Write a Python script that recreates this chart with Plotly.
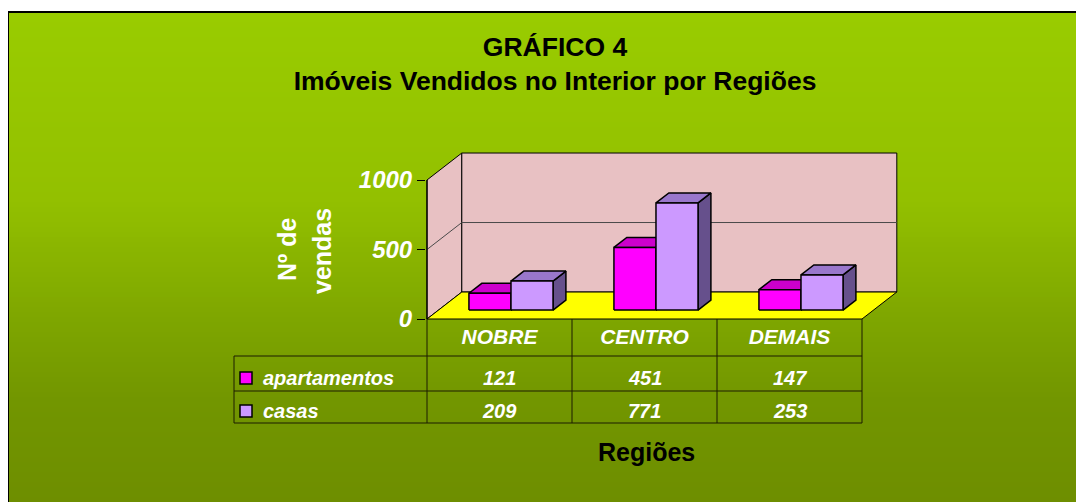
import plotly.graph_objects as go

# ---------------- data ----------------
categories = ["NOBRE", "CENTRO", "DEMAIS"]
apartamentos = [121, 451, 147]
casas = [209, 771, 253]
series_names = ["apartamentos", "casas"]
y_ticks = [0, 500, 1000]

# ---------------- styling / geometry ----------------
W, H = 1084, 502
OX, OY = 8, 8   # page body margin (figure is drawn offset by this much)
FONT = "Liberation Sans, Arial, sans-serif"
DX = 0.24      # depth in category units
DY = 194       # depth in value units
F1, F2 = 0.33, 0.70   # bar front / back depth fractions
BW = 0.29      # bar width (category units)
YMAX = 1000

# plot area in window pixels
L, R, T, B = 426, 900, 149, 321
XR = [-0.5 - 1 / 145, -0.5 + (R - 427) / 145]
YR = [-(B - 319) / 0.139, (319 - T) / 0.139]


def px_x(p):
    return (p - L) / (R - L)


def px_y(p):
    return (B - p) / (B - T)


COLORS = {
    "apartamentos": {"front": "#FF00FF", "top": "#CC00CC", "side": "#990099"},
    "casas": {"front": "#CC99FF", "top": "#9977CC", "side": "#66508C"},
}
WALL = "#E8C1C3"
FLOOR = "#FFFF00"
EDGE = "#000000"

fig = go.Figure()


def poly(xs, ys, fill, lw=1.0, lc=EDGE):
    fig.add_trace(go.Scatter(x=xs, y=ys, mode="lines", fill="toself",
                             fillcolor=fill, line=dict(color=lc, width=lw),
                             hoverinfo="skip", showlegend=False))


def line(xs, ys, lc="#333333", lw=1.0):
    fig.add_trace(go.Scatter(x=xs, y=ys, mode="lines",
                             line=dict(color=lc, width=lw),
                             hoverinfo="skip", showlegend=False))


xl, xr = -0.5, len(categories) - 0.5
# walls
poly([xl, xl, xl + DX, xl + DX, xl], [0, YMAX, YMAX + DY, DY, 0], WALL)
poly([xl + DX, xl + DX, xr + DX, xr + DX, xl + DX], [DY, YMAX + DY, YMAX + DY, DY, DY], WALL)
# gridlines
for t in y_ticks[1:-1]:
    line([xl, xl + DX, xr + DX], [t, t + DY, t + DY], lc="#4a4a4a", lw=1)
# floor
poly([xl, xr, xr + DX, xl + DX, xl], [0, 0, DY, DY, 0], FLOOR)

# bars
values = {"apartamentos": apartamentos, "casas": casas}
b1, b2 = F1 * DY, F2 * DY
ddx = (F2 - F1) * DX
for si, name in enumerate(series_names):
    vals = values[name]
    fx, fy, tx, ty, sx, sy = [], [], [], [], [], []
    for i, v in enumerate(vals):
        c = i + F1 * DX
        xa = c - BW if si == 0 else c
        xb = xa + BW
        sx += [xb, xb, xb + ddx, xb + ddx, xb, None]
        sy += [b1, b1 + v, b2 + v, b2, b1, None]
        tx += [xa, xb, xb + ddx, xa + ddx, xa, None]
        ty += [b1 + v, b1 + v, b2 + v, b2 + v, b1 + v, None]
        fx += [xa, xb, xb, xa, xa, None]
        fy += [b1, b1, b1 + v, b1 + v, b1, None]
    col = COLORS[name]
    poly(sx, sy, col["side"], lw=1.5)
    poly(tx, ty, col["top"], lw=1.5)
    poly(fx, fy, col["front"], lw=1.5)

# front edge of left wall (value axis line)
line([xl, xl], [0, YMAX], lc=EDGE, lw=1.2)

shapes = []
# background gradient
stops = [(12, (153, 204, 0)), (200, (147, 192, 0)), (320, (126, 166, 0)),
         (400, (114, 150, 0)), (502, (110, 142, 0))]


def grad(y):
    for (y0, c0), (y1, c1) in zip(stops[:-1], stops[1:]):
        if y0 <= y <= y1:
            f = (y - y0) / (y1 - y0)
            return "rgb(%d,%d,%d)" % tuple(round(a + (b - a) * f) for a, b in zip(c0, c1))
    return "rgb(%d,%d,%d)" % stops[-1][1]


step = 5
for y in range(12, 512, step):
    shapes.append(dict(type="rect", xref="paper", yref="paper", layer="below",
                       x0=px_x(8), x1=px_x(1100), y0=px_y(y), y1=px_y(y + step + 0.6),
                       fillcolor=grad(min(y + step / 2, 502)), line=dict(width=0)))
# chart frame
shapes.append(dict(type="rect", xref="paper", yref="paper", layer="below",
                   x0=px_x(8), x1=px_x(1110), y0=px_y(12), y1=px_y(525),
                   line=dict(color="#000000", width=2), fillcolor="rgba(0,0,0,0)"))

# data table
TL = "#1c1c00"
for yy in [356, 391, 423]:
    shapes.append(dict(type="line", xref="paper", yref="paper",
                       x0=px_x(234), x1=px_x(862), y0=px_y(yy), y1=px_y(yy),
                       line=dict(color=TL, width=1)))
shapes.append(dict(type="line", xref="paper", yref="paper",
                   x0=px_x(234), x1=px_x(234), y0=px_y(356), y1=px_y(423),
                   line=dict(color=TL, width=1)))
for k in range(len(categories) + 1):
    xv = -0.5 + k
    shapes.append(dict(type="line", xref="x", yref="paper",
                       x0=xv, x1=xv, y0=px_y(319), y1=px_y(423),
                       line=dict(color=TL, width=1)))

annotations = []
row_y = [378, 411]
cell_font = dict(family=FONT, size=20, color="white", weight="bold", style="italic")
for si, name in enumerate(series_names):
    yc = row_y[si]
    shapes.append(dict(type="rect", xref="paper", yref="paper",
                       x0=px_x(240), x1=px_x(252), y0=px_y(yc - 6), y1=px_y(yc + 6),
                       fillcolor=COLORS[name]["front"], line=dict(color="#000", width=1.5)))
    annotations.append(dict(text=name, xref="paper", yref="paper", x=px_x(261), y=px_y(yc),
                            xanchor="left", yanchor="middle", showarrow=False, font=cell_font))
    for i, v in enumerate(values[name]):
        annotations.append(dict(text=str(v), xref="x", yref="paper", x=i, y=px_y(yc),
                                xanchor="center", yanchor="middle", showarrow=False, font=cell_font))

# axis titles
ylab_font = dict(family=FONT, size=25, color="white", weight="bold")
annotations.append(dict(text="Nº de", xref="paper", yref="paper", x=px_x(287), y=px_y(250),
                        textangle=-90, showarrow=False, font=ylab_font,
                        xanchor="center", yanchor="middle"))
annotations.append(dict(text="vendas", xref="paper", yref="paper", x=px_x(322), y=px_y(251),
                        textangle=-90, showarrow=False, font=ylab_font,
                        xanchor="center", yanchor="middle"))
annotations.append(dict(text="Regiões", xref="paper", yref="paper", x=px_x(646), y=px_y(452),
                        showarrow=False, xanchor="center", yanchor="middle",
                        font=dict(family=FONT, size=25, color="black", weight="bold")))

fig.update_layout(
    width=W, height=H,
    margin=dict(l=L - OX, r=W - (R - OX), t=T - OY, b=H - (B - OY), pad=0),
    paper_bgcolor="white",
    plot_bgcolor="rgba(0,0,0,0)",
    showlegend=False,
    title=dict(text="GRÁFICO 4<br>Imóveis Vendidos no Interior por Regiões",
               x=(555 - OX) / W, xref="container", xanchor="center",
               y=1 - (56 - OY) / H, yref="container", yanchor="middle",
               font=dict(family=FONT, size=26.5, color="black", weight="bold")),
    xaxis=dict(range=XR, showgrid=False, zeroline=False, showline=False,
               tickvals=list(range(len(categories))), ticktext=categories, ticks="",
               tickfont=dict(family=FONT, size=21, color="white", weight="bold", style="italic"),
               ticklabelstandoff=1, fixedrange=True),
    yaxis=dict(range=YR, showgrid=False, zeroline=False, showline=False,
               tickvals=y_ticks, ticks="outside", ticklen=8, tickwidth=1, tickcolor="#000",
               tickfont=dict(family=FONT, size=24, color="white", weight="bold", style="italic"),
               fixedrange=True),
    shapes=shapes,
    annotations=annotations,
)

fig.write_html("out.html")
